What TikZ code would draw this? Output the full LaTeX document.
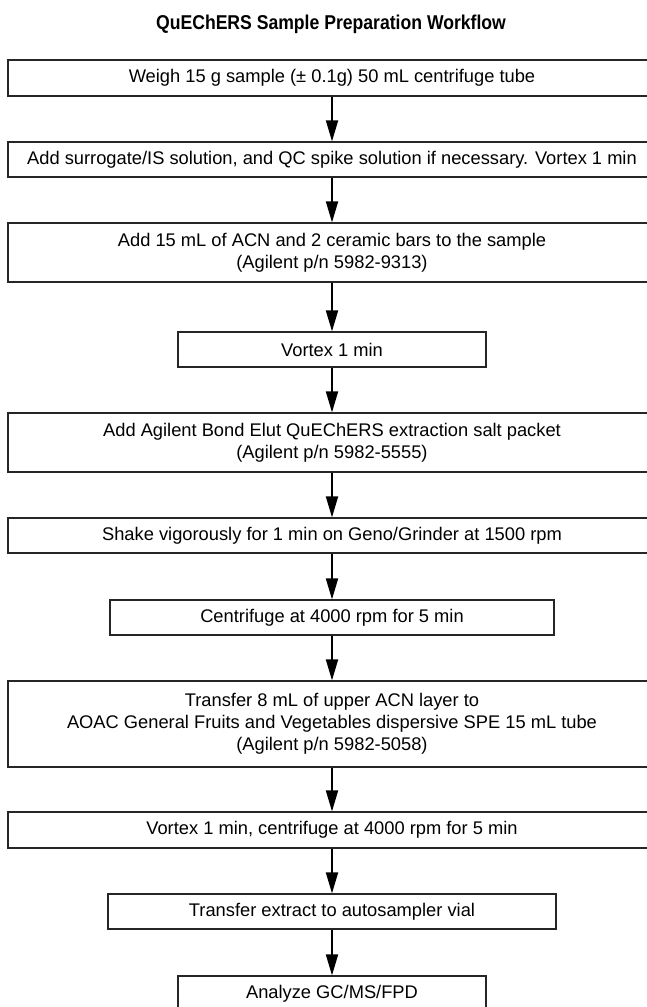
\documentclass[tikz,border=0pt]{standalone}
\usepackage{fontspec}
\setmainfont{Liberation Sans}
\newfontfamily\titlefont[FakeStretch=0.88]{Liberation Sans}
\usetikzlibrary{arrows.meta}
\begin{document}
\begin{tikzpicture}[x=1pt,y=1pt,
  stepbox/.style={draw=black!85,line width=1.2pt,inner sep=0pt,align=center,
    font=\fontsize{18.3}{22}\selectfont},
  wide/.style={stepbox,minimum width=648pt},
  arr/.style={line width=1.8pt,-{Triangle[length=21pt,width=12pt]}}]
\useasboundingbox (0,0) rectangle (647,-1007);
\node[font=\titlefont\bfseries\fontsize{20}{24}\selectfont] (title) at (331,-24) {QuEChERS Sample Preparation Workflow};
\node[wide,minimum height=36pt] (b1) at (332,-78) {Weigh 15 g sample (± 0.1g) 50 mL centrifuge tube};
\node[wide,minimum height=35pt] (b2) at (332,-159.5) {Add surrogate/IS solution, and QC spike solution if necessary. Vortex 1 min};
\node[wide,minimum height=59pt] (b3) at (332,-252.5) {Add 15 mL of ACN and 2 ceramic bars to the sample\\(Agilent p/n 5982-9313)};
\node[stepbox,minimum width=308pt,minimum height=35pt] (b4) at (332,-349.5) {Vortex 1 min};
\node[wide,minimum height=59pt] (b5) at (332,-442.5) {Add Agilent Bond Elut QuEChERS extraction salt packet\\(Agilent p/n 5982-5555)};
\node[wide,minimum height=35pt] (b6) at (332,-535.5) {Shake vigorously for 1 min on Geno/Grinder at 1500 rpm};
\node[stepbox,minimum width=444pt,minimum height=35pt] (b7) at (332,-617.5) {Centrifuge at 4000 rpm for 5 min};
\node[wide,minimum height=86pt] (b8) at (332,-724) {Transfer 8 mL of upper ACN layer to\\AOAC General Fruits and Vegetables dispersive SPE 15 mL tube\\(Agilent p/n 5982-5058)};
\node[wide,minimum height=36pt] (b9) at (332,-830) {Vortex 1 min, centrifuge at 4000 rpm for 5 min};
\node[stepbox,minimum width=448pt,minimum height=35pt] (b10) at (332,-911.5) {Transfer extract to autosampler vial};
\node[stepbox,minimum width=308pt,minimum height=35pt] (b11) at (332,-993.5) {Analyze GC/MS/FPD};
\foreach \a/\b in {b1/b2,b2/b3,b3/b4,b4/b5,b5/b6,b6/b7,b7/b8,b8/b9,b9/b10,b10/b11}
  \draw[arr] (\a.south) -- (\b.north);
\end{tikzpicture}
\end{document}
